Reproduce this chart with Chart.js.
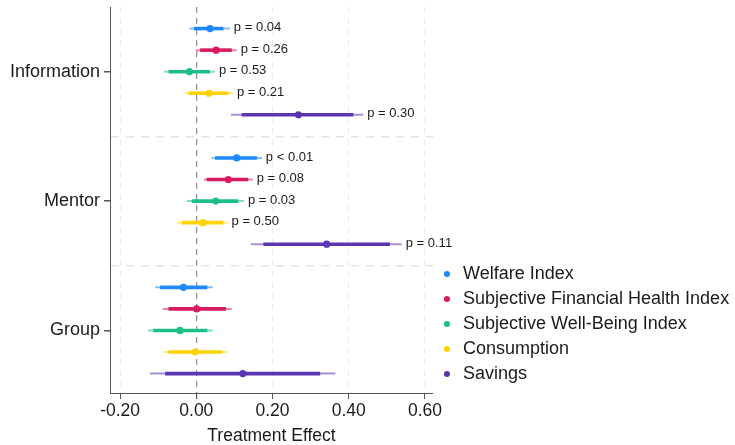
<!DOCTYPE html>
<html>
<head>
<meta charset="utf-8">
<script src="https://cdn.jsdelivr.net/npm/chart.js@4.4.1/dist/chart.umd.min.js"></script>
<style>
  html, body { margin: 0; padding: 0; background: #ffffff; }
  #wrap { width: 735px; height: 445px; }
</style>
</head>
<body>
<div id="wrap"><canvas id="chart" width="735" height="445"></canvas></div>
<script>
// Treatment arms (one block each) and outcomes (one row per outcome inside a block)
const categories = ['Information', 'Mentor', 'Group'];
const outcomes = [
  'Welfare Index',
  'Subjective Financial Health Index',
  'Subjective Well-Being Index',
  'Consumption',
  'Savings'
];
const xTickValues = [-0.2, 0, 0.2, 0.4, 0.6];

// Rows: outcomes, columns: treatment arms
const estimate = [
  [ 0.036,  0.106, -0.034],
  [ 0.052,  0.084,  0.001],
  [-0.018,  0.051, -0.043],
  [ 0.033,  0.017, -0.003],
  [ 0.268,  0.342,  0.122]
];
const innerLow = [
  [-0.006,  0.049, -0.095],
  [ 0.010,  0.027, -0.073],
  [-0.073, -0.012, -0.113],
  [-0.021, -0.038, -0.073],
  [ 0.119,  0.176, -0.082]
];
const innerHigh = [
  [ 0.071,  0.159,  0.029],
  [ 0.093,  0.136,  0.078],
  [ 0.036,  0.110,  0.029],
  [ 0.084,  0.071,  0.067],
  [ 0.412,  0.508,  0.325]
];
const outerLow = [
  [-0.018,  0.040, -0.108],
  [-0.001,  0.020, -0.088],
  [-0.084, -0.025, -0.126],
  [-0.030, -0.050, -0.087],
  [ 0.091,  0.143, -0.122]
];
const outerHigh = [
  [ 0.088,  0.172,  0.043],
  [ 0.106,  0.148,  0.093],
  [ 0.049,  0.125,  0.043],
  [ 0.096,  0.082,  0.080],
  [ 0.438,  0.539,  0.365]
];
const pLabels = [
  ['p = 0.04', 'p < 0.01', ''],
  ['p = 0.26', 'p = 0.08', ''],
  ['p = 0.53', 'p = 0.03', ''],
  ['p = 0.21', 'p = 0.50', ''],
  ['p = 0.30', 'p = 0.11', '']
];

const colors = ['#1E88FF', '#D81B60', '#1BC184', '#FFD300', '#5E35B1'];
const fadedColors = [
  'rgba(30,136,255,0.55)',
  'rgba(216,27,96,0.55)',
  'rgba(27,193,132,0.55)',
  'rgba(255,211,0,0.55)',
  'rgba(94,53,177,0.55)'
];

// Each arm takes six vertical slots; outcomes sit in slots 1-5, the arm label in slot 3.
const SLOTS = 6;
const rowPos = (c, s) => c * SLOTS + s + 1;
const armCenters = categories.map((_, c) => c * SLOTS + 3);
const armSeparators = [SLOTS, 2 * SLOTS];

Chart.defaults.font.family = "'Liberation Sans', Arial, Helvetica, sans-serif";
Chart.defaults.color = '#222';

const pointSets = outcomes.map((name, s) => ({
  type: 'scatter',
  label: name,
  data: categories.map((_, c) => ({ x: estimate[s][c], y: rowPos(c, s) })),
  backgroundColor: colors[s],
  borderColor: colors[s],
  borderWidth: 0,
  pointRadius: 3.6,
  pointHoverRadius: 3.6,
  pointStyle: 'circle',
  order: 0
}));
const innerSets = outcomes.map((name, s) => ({
  type: 'bar',
  label: name + ' (inner)',
  indexAxis: 'y',
  grouped: false,
  data: categories.map((_, c) => ({ x: [innerLow[s][c], innerHigh[s][c]], y: rowPos(c, s) })),
  backgroundColor: colors[s],
  borderWidth: 0,
  barThickness: 3.6,
  inflateAmount: 0,
  order: 1
}));
const outerSets = outcomes.map((name, s) => ({
  type: 'bar',
  label: name + ' (outer)',
  indexAxis: 'y',
  grouped: false,
  data: categories.map((_, c) => ({ x: [outerLow[s][c], outerHigh[s][c]], y: rowPos(c, s) })),
  backgroundColor: fadedColors[s],
  borderWidth: 0,
  barThickness: 2,
  inflateAmount: 0,
  order: 2
}));

// p-value annotations to the right of each interval
const pValueLabels = {
  id: 'pValueLabels',
  afterDatasetsDraw(chart) {
    const { ctx, scales: { x, y } } = chart;
    ctx.save();
    ctx.font = "13px 'Liberation Sans', Arial, sans-serif";
    ctx.fillStyle = '#1a1a1a';
    ctx.textAlign = 'left';
    ctx.textBaseline = 'middle';
    outcomes.forEach((_, s) => {
      categories.forEach((_, c) => {
        const text = pLabels[s][c];
        if (!text) return;
        ctx.fillText(text, x.getPixelForValue(outerHigh[s][c]) + 4, y.getPixelForValue(rowPos(c, s)) - 1);
      });
    });
    ctx.restore();
  }
};

// Let the legend use the full space right of the plot and lift it a little
const legendPlacement = {
  id: 'legendPlacement',
  afterLayout(chart) {
    const lg = chart.legend;
    if (!lg) return;
    lg.right = chart.width;
    lg.width = lg.right - lg.left;
    lg.top -= 3;
    lg.bottom -= 3;
  }
};

new Chart(document.getElementById('chart'), {
  type: 'scatter',
  data: { datasets: [...pointSets, ...innerSets, ...outerSets] },
  plugins: [pValueLabels, legendPlacement],
  options: {
    responsive: false,
    animation: false,
    // right padding leaves room for the long legend entries beside the plot
    layout: { padding: { top: 7, left: 0, right: 157.7, bottom: 0 } },
    plugins: {
      tooltip: { enabled: false },
      legend: {
        position: 'right',
        align: 'end',
        fullSize: false,
        labels: {
          usePointStyle: true,
          pointStyle: 'circle',
          boxWidth: 14,
          boxHeight: 4.3,
          padding: 7,
          color: '#1a1a1a',
          font: { size: 18 },
          filter: item => item.datasetIndex < outcomes.length
        }
      }
    },
    scales: {
      x: {
        type: 'linear',
        offset: false,
        min: -0.2265,
        max: 0.621,
        afterBuildTicks: scale => { scale.ticks = xTickValues.map(v => ({ value: v })); },
        afterFit: scale => {
          scale.height = 52;
          scale.paddingLeft = 0;
          scale.paddingRight = 0;
        },
        ticks: {
          callback: v => Number(v).toFixed(2),
          font: { size: 17.5 },
          color: '#1a1a1a',
          padding: 2,
          maxRotation: 0
        },
        grid: {
          color: ctx => (ctx.tick && ctx.tick.value === 0) ? '#8c8c8c' : '#ebebeb',
          lineWidth: ctx => (ctx.tick && ctx.tick.value === 0) ? 1.2 : 1,
          tickColor: '#555',
          tickLength: 6,
          tickBorderDash: [],
          offset: false
        },
        border: { display: true, color: '#555', width: 1, dash: [6, 5] },
        title: {
          display: true,
          text: 'Treatment Effect',
          font: { size: 17.5, lineHeight: 1 },
          color: '#1a1a1a',
          padding: { top: 2, bottom: 0 }
        }
      },
      y: {
        type: 'linear',
        offset: false,
        reverse: true,
        min: 0,
        max: 17.9,
        afterBuildTicks: scale => {
          scale.ticks = [...armCenters, ...armSeparators].sort((a, b) => a - b).map(v => ({ value: v }));
        },
        afterFit: scale => {
          scale.width = 110;
          scale.paddingTop = 0;
          scale.paddingBottom = 0;
        },
        ticks: {
          autoSkip: false,
          callback: v => {
            const i = armCenters.indexOf(v);
            return i >= 0 ? categories[i] : '';
          },
          font: { size: 18 },
          color: '#1a1a1a',
          padding: 4
        },
        grid: {
          color: ctx => (ctx.tick && armSeparators.includes(ctx.tick.value)) ? '#e4e4e4' : 'rgba(0,0,0,0)',
          tickColor: ctx => (ctx.tick && armCenters.includes(ctx.tick.value)) ? '#555' : 'rgba(0,0,0,0)',
          lineWidth: 1.5,
          tickLength: 6,
          tickBorderDash: [],
          offset: false
        },
        border: { display: true, color: '#555', width: 1, dash: [8, 7] }
      }
    }
  }
});
</script>
</body>
</html>
